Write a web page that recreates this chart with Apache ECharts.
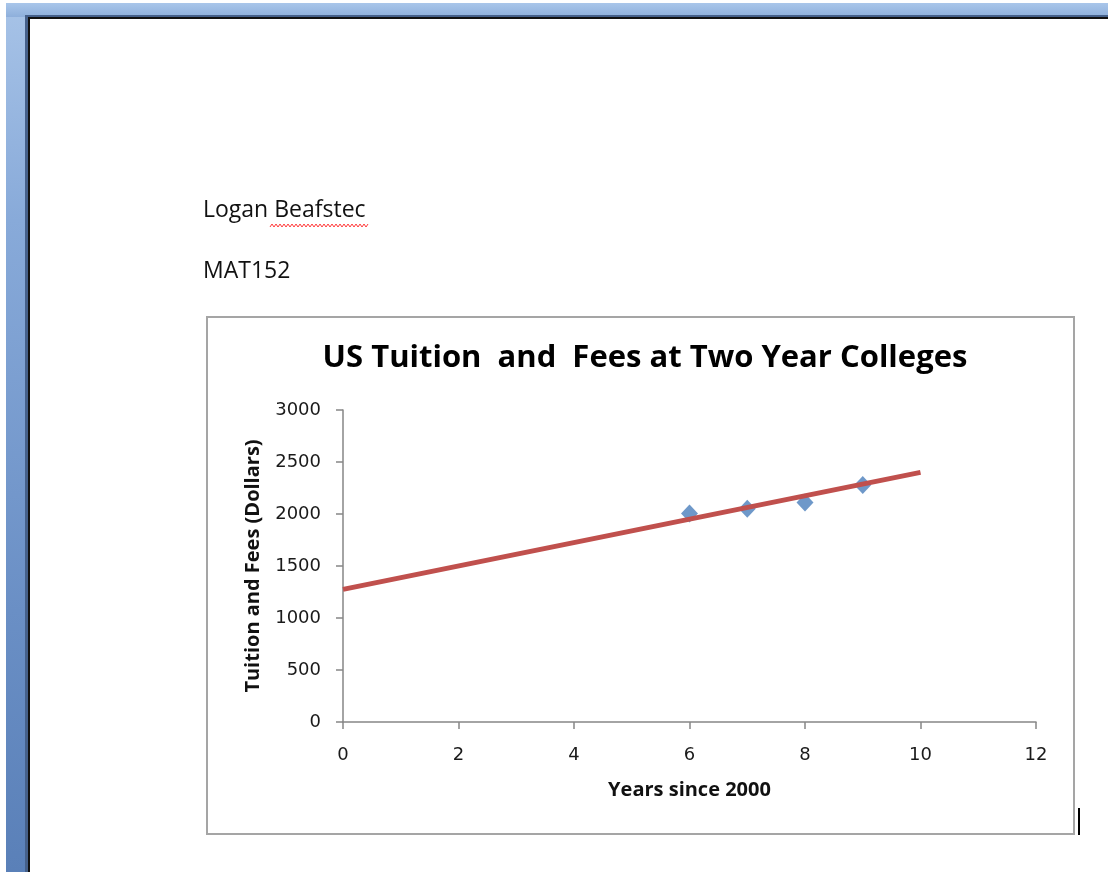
<!DOCTYPE html>
<html>
<head>
<meta charset="utf-8">
<script src="https://cdn.jsdelivr.net/npm/echarts@6/dist/echarts.min.js"></script>
<style>
html,body{margin:0;padding:0;background:#fff;}
#chart{width:1108px;height:881px;}
</style>
</head>
<body>
<div id="chart"></div>
<script>
// ---- data ----
const titleText = 'US Tuition  and  Fees at Two Year Colleges';
const xAxisName = 'Years since 2000';
const yAxisName = 'Tuition and Fees (Dollars)';
const docName = 'Logan Beafstec';
const docCourse = 'MAT152';
const years = [6, 7, 8, 9];
const tuition = [2005, 2050, 2110, 2280];
const trendYears = [0, 10];
const trendValues = [1275, 2400];
const xTicks = [0, 2, 4, 6, 8, 10, 12];
const yTicks = [0, 500, 1000, 1500, 2000, 2500, 3000];

const chart = echarts.init(document.getElementById('chart'), null, {renderer: 'canvas'});

// wavy spell-check underline under the surname
const wave = [];
for (let x = 270, i = 0; x <= 368; x += 2, i++) wave.push([x, i % 2 ? 224 : 227]);

const gray = '#868686';
const font = 'Open Sans, Noto Sans, sans-serif';
const tickFont = 'DejaVu Sans, sans-serif';

chart.setOption({
  backgroundColor: '#ffffff',
  animation: false,
  title: {
    text: titleText,
    left: 640, textAlign: 'center', top: 338,
    textStyle: {fontFamily: font, fontWeight: 'bold', fontSize: 31, color: '#000'}
  },
  grid: {left: 343, top: 410, width: 693, height: 312, containLabel: false},
  xAxis: {
    type: 'value', min: xTicks[0], max: xTicks[xTicks.length - 1], interval: 2,
    name: xAxisName, nameLocation: 'middle', nameGap: 58,
    nameTextStyle: {fontFamily: font, fontWeight: 'bold', fontSize: 20, color: '#111'},
    axisLine: {show: true, onZero: false, lineStyle: {color: gray, width: 1.5}},
    axisTick: {show: true, length: 7, lineStyle: {color: gray, width: 1.5}},
    axisLabel: {margin: 24, fontFamily: tickFont, fontSize: 18, color: '#1a1a1a',
      formatter: v => String(v)},
    splitLine: {show: false}
  },
  yAxis: {
    type: 'value', min: yTicks[0], max: yTicks[yTicks.length - 1], interval: 500,
    name: yAxisName, nameLocation: 'middle', nameGap: 80, nameRotate: 90,
    nameTextStyle: {fontFamily: font, fontWeight: 'bold', fontSize: 20, color: '#111'},
    axisLine: {show: true, onZero: false, lineStyle: {color: gray, width: 1.5}},
    axisTick: {show: true, length: 7, lineStyle: {color: gray, width: 1.5}},
    axisLabel: {margin: 22, fontFamily: tickFont, fontSize: 18, color: '#1a1a1a',
      formatter: v => String(v)},
    splitLine: {show: false}
  },
  series: [
    {
      type: 'scatter', symbol: 'diamond', symbolSize: [17, 18], z: 2,
      itemStyle: {color: '#4A7EBB'},
      data: years.map((y, i) => [y, tuition[i]])
    },
    {
      type: 'line', showSymbol: false, z: 3, silent: true,
      lineStyle: {color: '#C0504D', width: 5},
      data: trendYears.map((y, i) => [y, trendValues[i]])
    }
  ],
  graphic: [
    // window background (blue frame)
    {type: 'rect', z: -10, silent: true, shape: {x: 6, y: 3, width: 1102, height: 869},
      style: {fill: new echarts.graphic.LinearGradient(0, 0, 0, 1, [
        {offset: 0, color: '#a7c3e7'}, {offset: 0.25, color: '#88aad9'},
        {offset: 0.7, color: '#6a8fc5'}, {offset: 1, color: '#5a80b8'}])}},
    // top band lighter
    {type: 'rect', z: -9, silent: true, shape: {x: 6, y: 3, width: 1102, height: 14},
      style: {fill: new echarts.graphic.LinearGradient(0, 0, 0, 1, [
        {offset: 0, color: '#a9c6ea'}, {offset: 1, color: '#8eafdb'}])}},
    // page shadow edge
    {type: 'rect', z: -8, silent: true, shape: {x: 25, y: 15, width: 1083, height: 857},
      style: {fill: '#45608a'}},
    {type: 'rect', z: -7, silent: true, shape: {x: 28, y: 17, width: 1080, height: 855},
      style: {fill: '#111'}},
    // page
    {type: 'rect', z: -6, silent: true, shape: {x: 30, y: 19, width: 1078, height: 862},
      style: {fill: '#ffffff'}},
    // header text
    {type: 'text', z: 1, silent: true, x: 203, y: 199,
      style: {text: docName, fontFamily: font, fontSize: 23, fill: '#111', textVerticalAlign: 'top'}},
    {type: 'polyline', z: 1, silent: true, shape: {points: wave},
      style: {stroke: '#ff3b3b', lineWidth: 1, fill: null}},
    {type: 'text', z: 1, silent: true, x: 203, y: 260,
      style: {text: docCourse, fontFamily: font, fontSize: 23, fill: '#111', textVerticalAlign: 'top'}},
    // chart box border
    {type: 'rect', z: -5, silent: true, shape: {x: 207, y: 317, width: 867, height: 517},
      style: {fill: '#fff', stroke: '#a5a5a5', lineWidth: 2}},
    // text cursor
    {type: 'rect', z: 1, silent: true, shape: {x: 1078, y: 808, width: 2, height: 27},
      style: {fill: '#000'}}
  ]
});
</script>
</body>
</html>
